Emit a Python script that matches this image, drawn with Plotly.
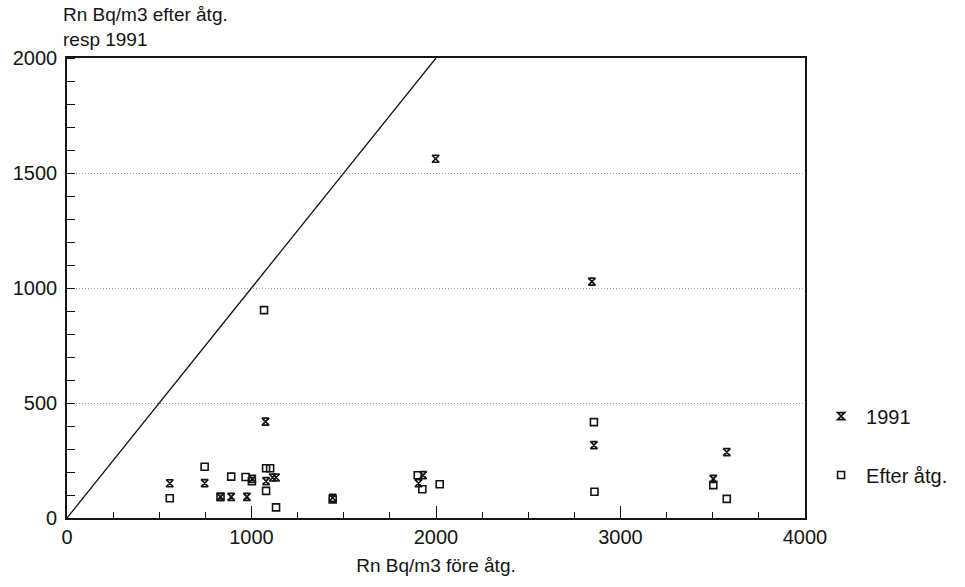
import plotly.graph_objects as go

# Radon levels (Bq/m3) before measures, after measures and in 1991
fore_efter = [557, 746, 832, 890, 968, 1002, 1068, 1079, 1101, 1079, 1133,
              1440, 1901, 1926, 2020, 2856, 2859, 3503, 3576]
efter_atg = [86, 223, 92, 180, 178, 160, 904, 216, 216, 118, 46,
             81, 186, 125, 147, 417, 114, 143, 83]

fore_1991 = [557, 746, 832, 890, 975, 1005, 1076, 1079, 1115, 1133,
             1440, 1905, 1930, 1998, 2845, 2856, 3503, 3576]
varde_1991 = [151, 152, 92, 92, 92, 170, 419, 160, 176, 176,
              88, 151, 186, 1562, 1028, 317, 170, 286]

# y = x reference line
lika_linje = [0, 2000]

x_ticks = [0, 1000, 2000, 3000, 4000]
y_ticks = [0, 500, 1000, 1500, 2000]

FONT = "Liberation Sans, Arial, sans-serif"
INK = "#141414"

fig = go.Figure()

fig.add_trace(go.Scatter(
    x=lika_linje, y=lika_linje, mode="lines",
    line=dict(color=INK, width=1.3), showlegend=False, hoverinfo="skip"))

fig.add_trace(go.Scatter(
    x=fore_1991, y=varde_1991, mode="markers", name="1991",
    legendgroup="a",
    marker=dict(symbol="hourglass-open", size=7, color=INK,
                line=dict(width=1.7, color=INK))))

fig.add_trace(go.Scatter(
    x=fore_efter, y=efter_atg, mode="markers", name="Efter åtg.",
    legendgroup="b",
    marker=dict(symbol="square-open", size=7, color=INK,
                line=dict(width=1.6, color=INK))))

fig.update_layout(
    width=965, height=587,
    margin=dict(l=67, r=158, t=58, b=69),
    paper_bgcolor="white", plot_bgcolor="white",
    font=dict(family=FONT, size=20, color=INK),
    showlegend=True,
    legend=dict(x=1.015, xanchor="left", y=0.264, yanchor="top",
                traceorder="grouped", tracegroupgap=30,
                font=dict(size=20, family=FONT, color=INK),
                bgcolor="rgba(0,0,0,0)", itemwidth=40),
    annotations=[dict(
        text="Rn Bq/m3 efter åtg.<br>resp 1991",
        xref="paper", yref="paper", x=-0.008, y=1.122,
        xanchor="left", yanchor="top", align="left", showarrow=False,
        font=dict(size=19, family=FONT, color=INK))],
)

fig.update_xaxes(
    range=[0, 4000], tickvals=x_ticks, ticktext=[str(v) for v in x_ticks],
    showline=True, linecolor=INK, linewidth=1.6, mirror=True,
    ticks="inside", ticklen=12, tickwidth=1.3, tickcolor=INK,
    minor=dict(dtick=250, ticks="inside", ticklen=6, tickwidth=1.2,
               tickcolor=INK, showgrid=False),
    showgrid=False, zeroline=False,
    title=dict(text="Rn Bq/m3 före åtg.", font=dict(size=19, family=FONT),
               standoff=12),
)

fig.update_yaxes(
    range=[0, 2000], tickvals=y_ticks, ticktext=[str(v) for v in y_ticks],
    showline=True, linecolor=INK, linewidth=1.6, mirror=True,
    ticks="", ticklabelstandoff=4,
    minor=dict(dtick=100, ticks="inside", ticklen=8, tickwidth=1.2,
               tickcolor=INK, showgrid=False),
    showgrid=True, gridcolor="#9a9a9a", gridwidth=1, griddash="1px,2px",
    zeroline=False,
)

fig.write_html("out.html")
